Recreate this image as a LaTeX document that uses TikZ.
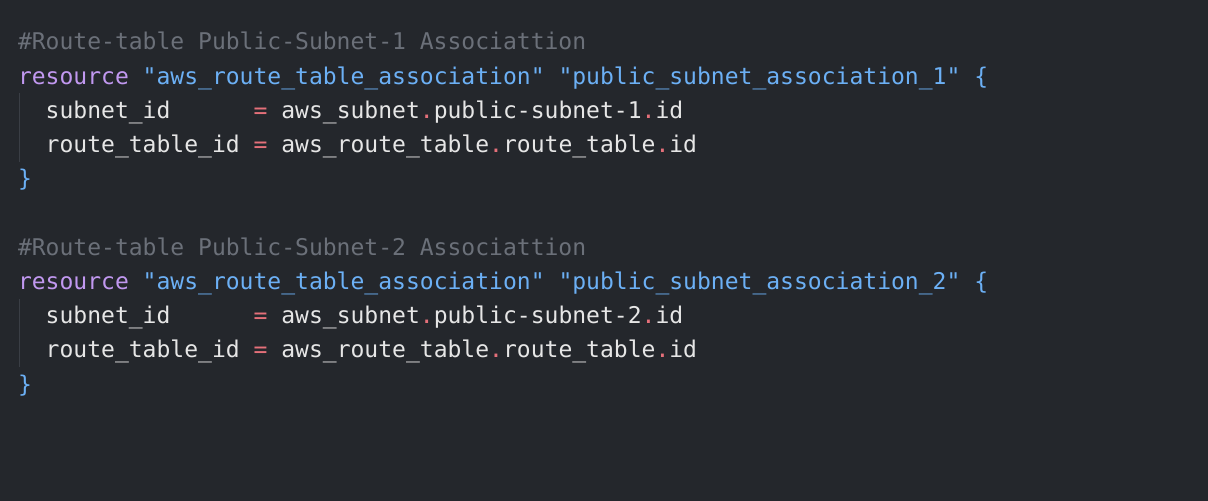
\documentclass[tikz,border=0pt]{standalone}
\usepackage{fontspec}
\setmonofont{DejaVu Sans Mono}
\definecolor{bgc}{HTML}{24272C}
\definecolor{cmt}{HTML}{6B7079}
\definecolor{kwc}{HTML}{C198F0}
\definecolor{strc}{HTML}{6CB0F5}
\definecolor{idc}{HTML}{E6E6E6}
\definecolor{opc}{HTML}{E5707A}
\definecolor{guide}{HTML}{3A3E45}
\newcommand{\kwt}[1]{\textcolor{kwc}{#1}}
\newcommand{\strt}[1]{\textcolor{strc}{#1}}
\newcommand{\opt}[1]{\textcolor{opc}{#1}}
\newcommand{\cmtt}[1]{\textcolor{cmt}{#1}}
\begin{document}
\begin{tikzpicture}[x=1bp,y=-1bp,
  codeline/.style={anchor=base west,inner sep=0pt,outer sep=0pt,text=idc,
    font=\ttfamily\fontsize{23.02bp}{34bp}\selectfont},
  guideline/.style={draw=guide,line width=1.4bp}]
\fill[bgc] (0,0) rectangle (1208,501);
\useasboundingbox (0,0) rectangle (1208,501);
% block 1
\node[codeline] (l0) at (18,50) {\cmtt{\#Route-table Public-Subnet-1 Associattion}};
\node[codeline] (l1) at (18,84.2) {\kwt{resource} \strt{"aws\_route\_table\_association"} \strt{"public\_subnet\_association\_1"} \strt{\{}};
\node[codeline] (l2) at (18,118.4) {~~subnet\_id~~~~~~\opt{=} aws\_subnet\opt{.}public-subnet-1\opt{.}id};
\node[codeline] (l3) at (18,152.6) {~~route\_table\_id \opt{=} aws\_route\_table\opt{.}route\_table\opt{.}id};
\node[codeline] (l4) at (18,186.8) {\strt{\}}};
% block 2
\node[codeline] (l6) at (18,255.2) {\cmtt{\#Route-table Public-Subnet-2 Associattion}};
\node[codeline] (l7) at (18,289.4) {\kwt{resource} \strt{"aws\_route\_table\_association"} \strt{"public\_subnet\_association\_2"} \strt{\{}};
\node[codeline] (l8) at (18,323.6) {~~subnet\_id~~~~~~\opt{=} aws\_subnet\opt{.}public-subnet-2\opt{.}id};
\node[codeline] (l9) at (18,357.8) {~~route\_table\_id \opt{=} aws\_route\_table\opt{.}route\_table\opt{.}id};
\node[codeline] (l10) at (18,392) {\strt{\}}};
% indent guides
\draw[guideline] (19.5,93) -- (19.5,162);
\draw[guideline] (19.5,299) -- (19.5,367);
\end{tikzpicture}
\end{document}
